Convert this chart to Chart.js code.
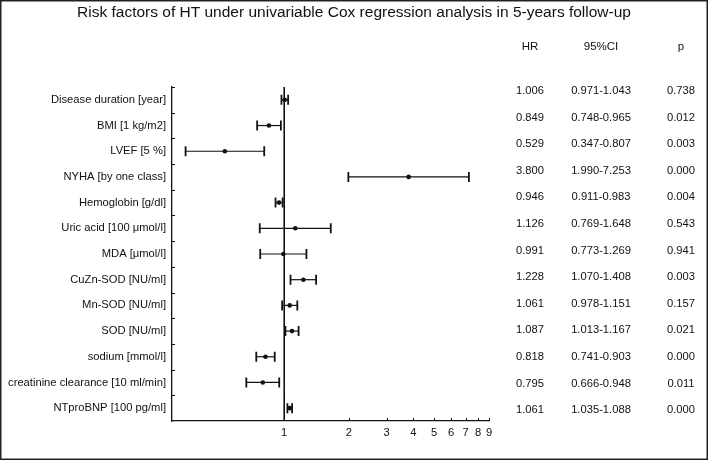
<!DOCTYPE html>
<html>
<head>
<meta charset="utf-8">
<script src="https://cdn.jsdelivr.net/npm/chart.js@4.4.1/dist/chart.umd.min.js"></script>
<style>
html,body{margin:0;padding:0;background:#fff;}
#wrap{position:relative;width:708px;height:460px;}
</style>
</head>
<body>
<div id="wrap"><canvas id="c" width="708" height="460"></canvas></div>
<script>
const chartTitle = "Risk factors of HT under univariable Cox regression analysis in 5-years follow-up";
const factors = ["Disease duration [year]", "BMI [1 kg/m2]", "LVEF [5 %]", "NYHA [by one class]", "Hemoglobin [g/dl]", "Uric acid [100 \u03bcmol/l]", "MDA [\u03bcmol/l]", "CuZn-SOD [NU/ml]", "Mn-SOD [NU/ml]", "SOD [NU/ml]", "sodium [mmol/l]", "creatinine clearance [10 ml/min]", "NTproBNP [100 pg/ml]"];
const hr     = [1.006, 0.849, 0.529, 3.800, 0.946, 1.126, 0.991, 1.228, 1.061, 1.087, 0.818, 0.795, 1.061];
const ciLow  = [0.971, 0.748, 0.347, 1.990, 0.911, 0.769, 0.773, 1.070, 0.978, 1.013, 0.741, 0.666, 1.035];
const ciHigh = [1.043, 0.965, 0.807, 7.253, 0.983, 1.648, 1.269, 1.408, 1.151, 1.167, 0.903, 0.948, 1.088];
const pValues = ["0.738", "0.012", "0.003", "0.000", "0.004", "0.543", "0.941", "0.003", "0.157", "0.021", "0.000", "0.011", "0.000"];
const tableHeaders = ["HR", "95%CI", "p"];
const xTicks = [1, 2, 3, 4, 5, 6, 7, 8, 9];
const xMin = 0.3, xMax = 9;

const INK = '#111111';
const FONT = 'Arial, "Liberation Sans", sans-serif';

const forestPlugin = {
  id: 'forest',
  beforeDatasetsDraw(chart) {
    const ctx = chart.ctx, x = chart.scales.x, y = chart.scales.y, area = chart.chartArea;
    ctx.save();
    // reference line at HR = 1
    const x1 = x.getPixelForValue(1);
    ctx.strokeStyle = INK; ctx.lineWidth = 1.6;
    ctx.beginPath(); ctx.moveTo(x1, area.top); ctx.lineTo(x1, area.bottom); ctx.stroke();
    // CI bars
    factors.forEach((f, i) => {
      const yy = y.getPixelForValue(i);
      const xl = x.getPixelForValue(ciLow[i]);
      const xh = x.getPixelForValue(ciHigh[i]);
      ctx.lineWidth = 1.2;
      ctx.beginPath(); ctx.moveTo(xl, yy); ctx.lineTo(xh, yy); ctx.stroke();
      ctx.lineWidth = 1.8;
      ctx.beginPath();
      ctx.moveTo(xl, yy - 5); ctx.lineTo(xl, yy + 5);
      ctx.moveTo(xh, yy - 5); ctx.lineTo(xh, yy + 5);
      ctx.stroke();
    });
    ctx.restore();
  },
  afterDraw(chart) {
    const ctx = chart.ctx, x = chart.scales.x, y = chart.scales.y, area = chart.chartArea;
    ctx.save();
    ctx.strokeStyle = INK; ctx.lineWidth = 1;
    // inward y ticks at category boundaries
    const band = (area.bottom - area.top) / factors.length;
    for (let i = 0; i < factors.length; i++) {
      const yy = Math.round(y.getPixelForValue(i) - band / 2) + 0.5;
      ctx.beginPath(); ctx.moveTo(area.left, yy); ctx.lineTo(area.left + 3, yy); ctx.stroke();
    }
    // inward x ticks
    xTicks.forEach(v => {
      if (v === 1) return;
      const xx = Math.round(x.getPixelForValue(v)) + 0.5;
      ctx.beginPath(); ctx.moveTo(xx, area.bottom); ctx.lineTo(xx, area.bottom - 3); ctx.stroke();
    });
    // title
    ctx.fillStyle = INK;
    ctx.font = '15.5px ' + FONT;
    ctx.textAlign = 'center'; ctx.textBaseline = 'middle';
    ctx.fillText(chartTitle, 354, 13);
    // table
    const cols = [530, 601, 681];
    ctx.font = '11.5px ' + FONT;
    tableHeaders.forEach((h, j) => ctx.fillText(h, cols[j], 47));
    ctx.font = '11.2px ' + FONT;
    factors.forEach((f, i) => {
      const yy = 91 + i * 26.6;
      ctx.fillText(hr[i].toFixed(3), cols[0], yy);
      ctx.fillText(ciLow[i].toFixed(3) + '-' + ciHigh[i].toFixed(3), cols[1], yy);
      ctx.fillText(pValues[i], cols[2], yy);
    });
    // frame
    ctx.lineWidth = 1.5; ctx.strokeStyle = '#222';
    ctx.strokeRect(0.75, 0.75, 706.5, 458.5);
    ctx.restore();
  }
};

new Chart(document.getElementById('c'), {
  type: 'scatter',
  data: {
    datasets: [{
      data: factors.map((f, i) => ({ x: hr[i], y: f })),
      backgroundColor: INK,
      borderColor: INK,
      borderWidth: 0,
      pointRadius: 2.3,
      pointHoverRadius: 2.3,
      pointStyle: 'circle'
    }]
  },
  options: {
    responsive: false,
    animation: false,
    events: [],
    layout: { padding: { left: 0, top: 87, right: 219, bottom: 0 } },
    plugins: { legend: { display: false }, tooltip: { enabled: false }, title: { display: false } },
    scales: {
      x: {
        type: 'logarithmic',
        min: xMin, max: xMax,
        afterBuildTicks: s => { s.ticks = xTicks.map(v => ({ value: v })); },
        afterFit: s => { s.height = 39; },
        grid: { display: false, drawTicks: false },
        border: { display: true, color: INK, width: 1.3 },
        ticks: {
          autoSkip: false, maxRotation: 0, padding: 5,
          color: INK, font: { family: FONT, size: 11.2 },
          callback: v => String(v)
        }
      },
      y: {
        type: 'category',
        labels: factors,
        offset: true,
        afterFit: s => { s.width = 172; },
        grid: { display: false, drawTicks: false },
        border: { display: true, color: INK, width: 1.3 },
        ticks: { autoSkip: false, padding: 6, color: INK, font: { family: FONT, size: 11.2 } }
      }
    }
  },
  plugins: [forestPlugin]
});
</script>
</body>
</html>
